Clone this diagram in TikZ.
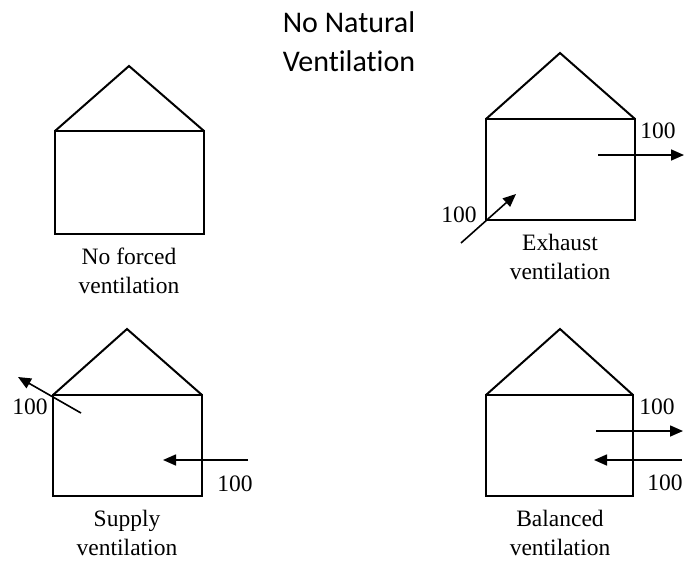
\documentclass[tikz,border=0pt]{standalone}
\usepackage{fontspec}
\setmainfont{Liberation Serif}
\newfontfamily\titlefont[Ligatures=NoCommon]{Carlito}
\usetikzlibrary{arrows.meta}
\begin{document}
\begin{tikzpicture}[x=1pt,y=-1pt,
  house/.style={line width=2pt,line join=miter},
  flow/.style={line width=1.6pt,-{Triangle[length=13pt,width=11pt]}},
  lbl/.style={font=\fontsize{23.5}{28.5}\selectfont,align=center,inner sep=0pt},
  num/.style={font=\fontsize{23.5}{28}\selectfont,inner sep=0pt}]
\useasboundingbox (0,0) rectangle (700,581);
\node[font=\titlefont\fontsize{30}{39}\selectfont,align=center,inner sep=0pt] (title) at (349,42) {No Natural\\Ventilation};
% house 1
\draw[house] (55,131) rectangle (204,234);
\draw[house] (55,131) -- (129,66) -- (204,131);
\node[lbl] (l1) at (129,271) {No forced\\ventilation};
% house 2
\draw[house] (486,119) rectangle (635,220);
\draw[house] (486,119) -- (560,53) -- (635,119);
\node[lbl] (l2) at (560,257) {Exhaust\\ventilation};
\coordinate (e1s) at (461,243); \coordinate (e1e) at (516,194);
\draw[flow] (e1s) -- (e1e);
\node[num] (n2a) at (459,215) {100};
\coordinate (e2s) at (598,155); \coordinate (e2e) at (684,155);
\draw[flow] (e2s) -- (e2e);
\node[num] (n2b) at (658,131) {100};
% house 3
\draw[house] (53,395) rectangle (202,496);
\draw[house] (53,395) -- (127,329) -- (202,395);
\node[lbl] (l3) at (127,533) {Supply\\ventilation};
\coordinate (s1s) at (81,413); \coordinate (s1e) at (18,377);
\draw[flow] (s1s) -- (s1e);
\node[num] (n3a) at (30,407) {100};
\coordinate (s2s) at (248,460); \coordinate (s2e) at (163,460);
\draw[flow] (s2s) -- (s2e);
\node[num] (n3b) at (235,484) {100};
% house 4
\draw[house] (486,395) rectangle (633,496);
\draw[house] (486,395) -- (560,329) -- (633,395);
\node[lbl] (l4) at (560,533) {Balanced\\ventilation};
\coordinate (b1s) at (596,431); \coordinate (b1e) at (683,431);
\draw[flow] (b1s) -- (b1e);
\coordinate (b2s) at (682,460); \coordinate (b2e) at (594,460);
\draw[flow] (b2s) -- (b2e);
\node[num] (n4a) at (657,407) {100};
\node[num] (n4b) at (665,483) {100};
\end{tikzpicture}
\end{document}
